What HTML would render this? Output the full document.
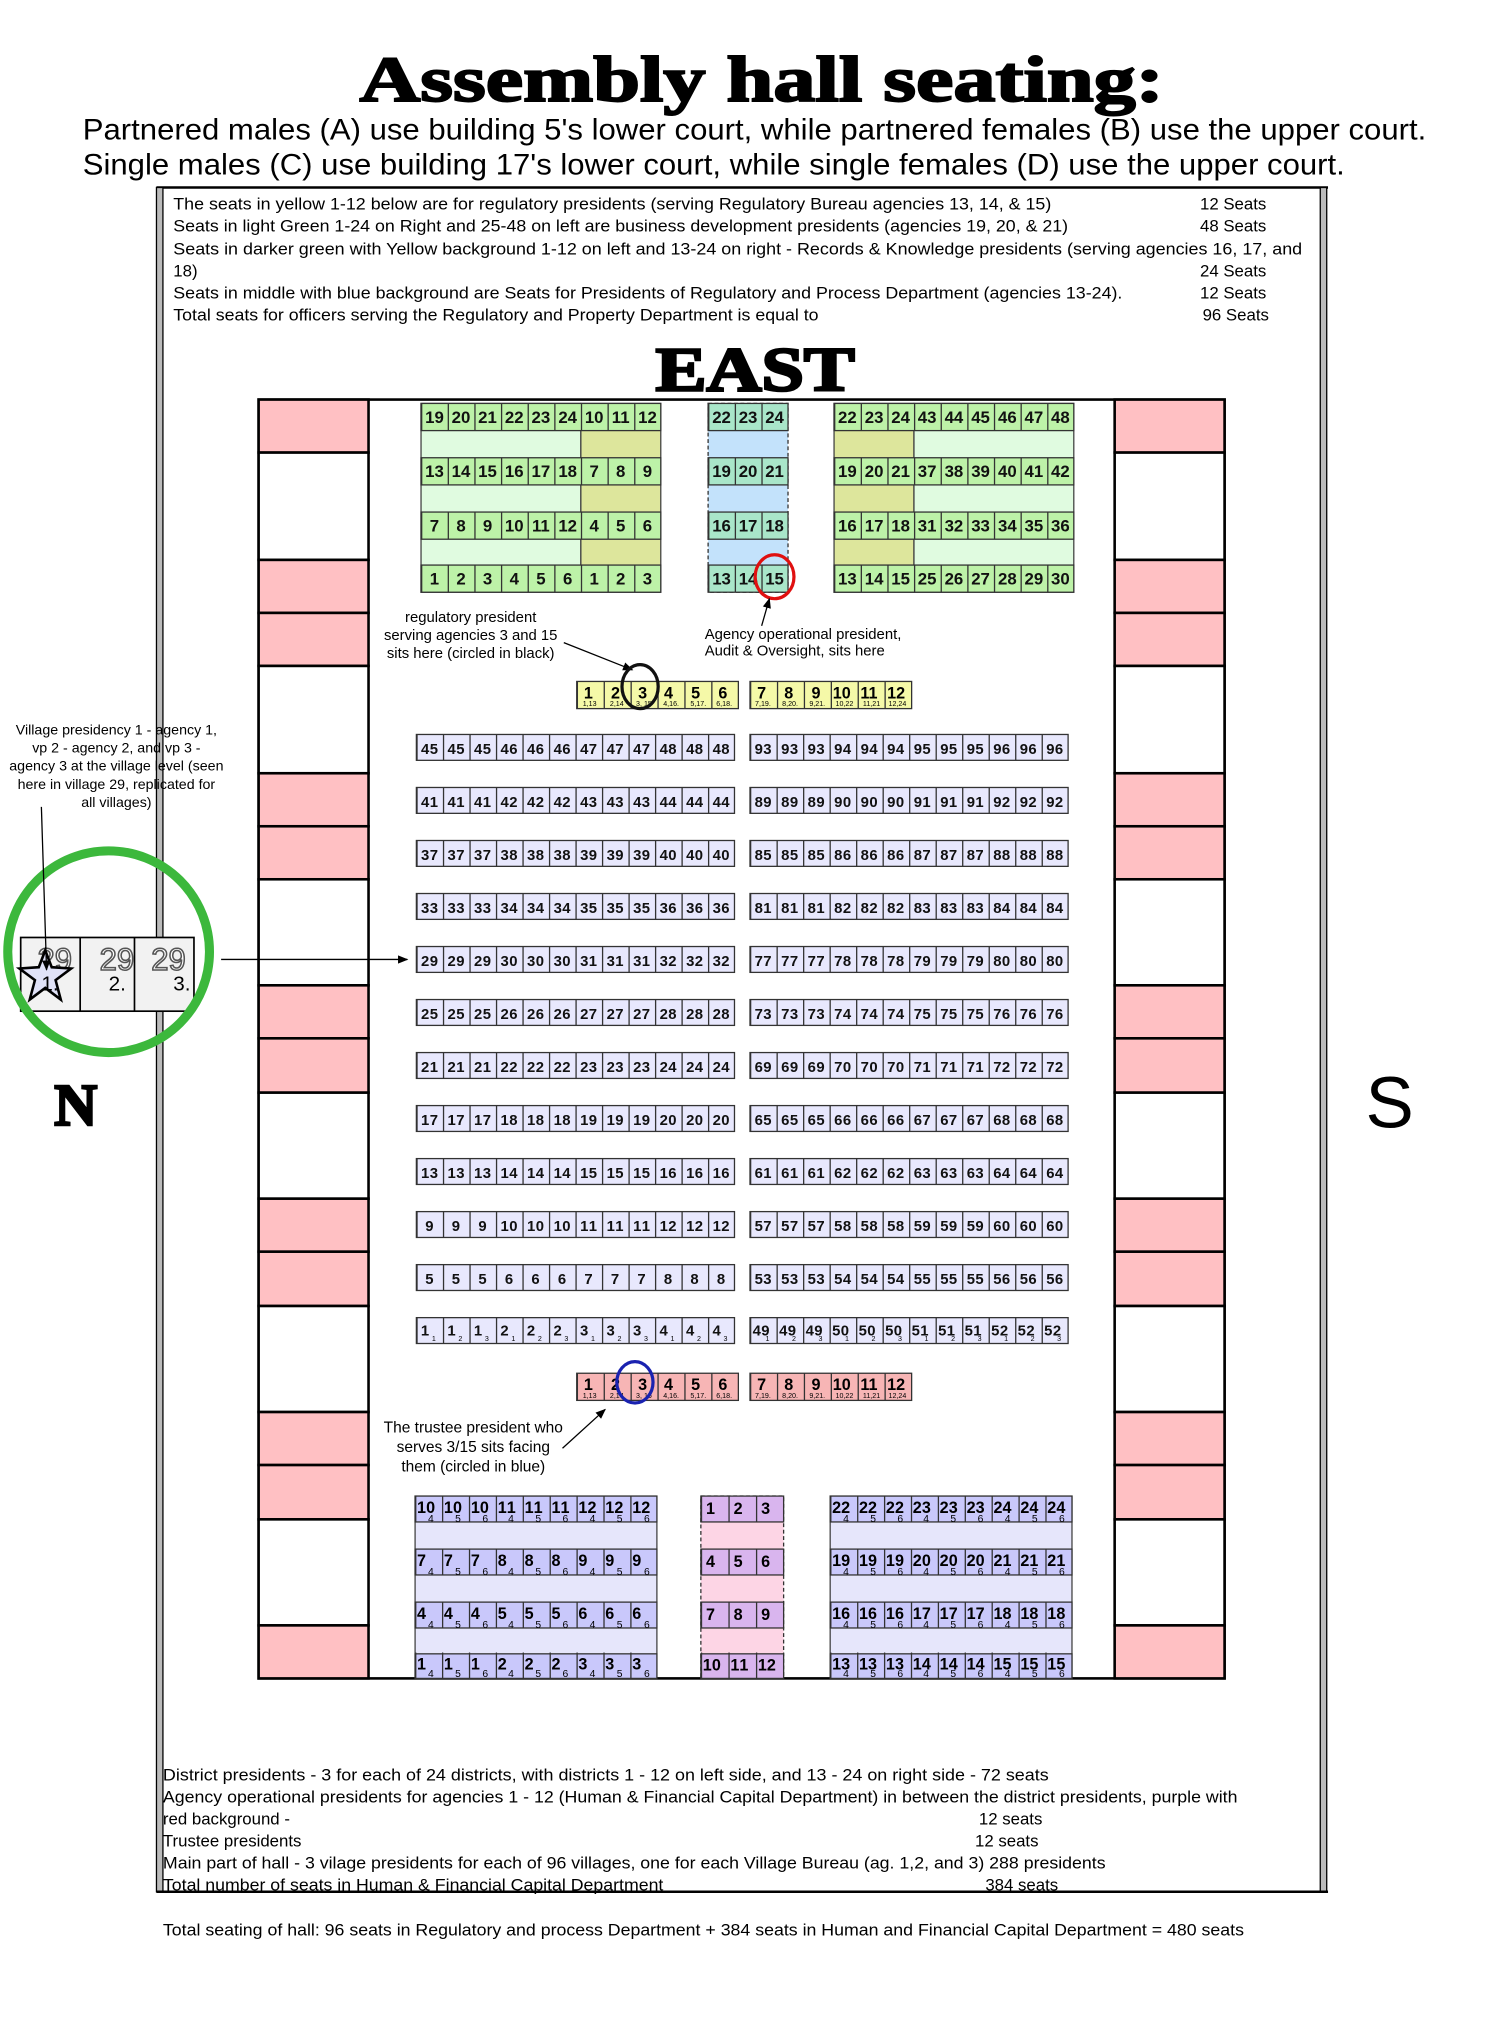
<!DOCTYPE html>
<html><head><meta charset="utf-8"><style>
html,body{margin:0;padding:0;background:#fff;}
svg{display:block;}
text{font-family:"Liberation Sans",sans-serif;}
</style></head><body>
<svg width="1500" height="2034" viewBox="0 0 1160 1573" preserveAspectRatio="none" xmlns="http://www.w3.org/2000/svg">
<defs>
<marker id="ah" viewBox="0 0 10 10" refX="9" refY="5" markerWidth="8" markerHeight="8" orient="auto"><path d="M0,1 L10,5 L0,9 z" fill="#000"/></marker>
</defs>
<rect width="1160" height="1573" fill="#fff"/>
<!-- Title -->
<text x="278" y="78" font-family="Liberation Serif,serif" font-weight="bold" font-size="50" textLength="622" lengthAdjust="spacingAndGlyphs" stroke="#000" stroke-width="1.5" style="font-family:'Liberation Serif',serif">Assembly hall seating:</text>
<text x="64" y="108" font-size="23" textLength="1039" lengthAdjust="spacingAndGlyphs">Partnered males (A) use building 5's lower court, while partnered females (B) use the upper court.</text>
<text x="64" y="135" font-size="23" textLength="976" lengthAdjust="spacingAndGlyphs">Single males (C) use building 17's lower court, while single females (D) use the upper court.</text>
<!-- Frame -->
<line x1="121" y1="145" x2="1027" y2="145" stroke="#000" stroke-width="2"/>
<line x1="121" y1="1463" x2="1027" y2="1463" stroke="#000" stroke-width="2"/>
<rect x="121" y="145" width="5" height="1318" fill="#bbb" stroke="#000" stroke-width="1"/>
<rect x="1021" y="145" width="5" height="1318" fill="#bbb" stroke="#000" stroke-width="1"/>
<!-- Info text -->
<g font-size="13">
<text x="134" y="162" textLength="679" lengthAdjust="spacingAndGlyphs">The seats  in yellow 1-12 below are for regulatory presidents (serving Regulatory Bureau agencies 13, 14, &amp; 15)</text>
<text x="928" y="162">12 Seats</text>
<text x="134" y="179" textLength="692" lengthAdjust="spacingAndGlyphs">Seats in light Green 1-24 on Right and 25-48 on left are business development presidents (agencies 19, 20, &amp; 21)</text>
<text x="928" y="179">48 Seats</text>
<text x="134" y="197" textLength="873" lengthAdjust="spacingAndGlyphs">Seats in darker  green with Yellow background 1-12 on left and 13-24 on right  - Records &amp; Knowledge presidents (serving agencies 16, 17, and</text>
<text x="134" y="214">18)</text>
<text x="928" y="214">24 Seats</text>
<text x="134" y="231" textLength="734" lengthAdjust="spacingAndGlyphs">Seats in middle with blue background are Seats for Presidents of  Regulatory and Process Department (agencies 13-24).</text>
<text x="928" y="231">12 Seats</text>
<text x="134" y="248" textLength="499" lengthAdjust="spacingAndGlyphs">Total seats for officers serving the Regulatory and Property Department is equal to</text>
<text x="930" y="248">96 Seats</text>
</g>
<text x="507" y="302" font-weight="bold" font-size="48" textLength="154" lengthAdjust="spacingAndGlyphs" stroke="#000" stroke-width="2" style="font-family:'Liberation Serif',serif">EAST</text>
<!-- Hall -->
<rect x="200" y="309" width="747" height="989" fill="none" stroke="#000" stroke-width="2"/>
<g stroke="#000" stroke-width="2">
<rect x="200" y="309" width="85" height="41" fill="#ffc0c3"/>
<rect x="200" y="350" width="85" height="83" fill="#fff"/>
<rect x="200" y="433" width="85" height="41" fill="#ffc0c3"/><rect x="200" y="474" width="85" height="41" fill="#ffc0c3"/><rect x="200" y="515" width="85" height="83" fill="#fff"/>
<rect x="200" y="598" width="85" height="41" fill="#ffc0c3"/><rect x="200" y="639" width="85" height="41" fill="#ffc0c3"/><rect x="200" y="680" width="85" height="82" fill="#fff"/>
<rect x="200" y="762" width="85" height="41" fill="#ffc0c3"/><rect x="200" y="803" width="85" height="42" fill="#ffc0c3"/><rect x="200" y="845" width="85" height="82" fill="#fff"/>
<rect x="200" y="927" width="85" height="41" fill="#ffc0c3"/><rect x="200" y="968" width="85" height="42" fill="#ffc0c3"/><rect x="200" y="1010" width="85" height="82" fill="#fff"/>
<rect x="200" y="1092" width="85" height="41" fill="#ffc0c3"/><rect x="200" y="1133" width="85" height="42" fill="#ffc0c3"/><rect x="200" y="1175" width="85" height="82" fill="#fff"/>
<rect x="200" y="1257" width="85" height="41" fill="#ffc0c3"/>
<rect x="862" y="309" width="85" height="41" fill="#ffc0c3"/>
<rect x="862" y="350" width="85" height="83" fill="#fff"/>
<rect x="862" y="433" width="85" height="41" fill="#ffc0c3"/><rect x="862" y="474" width="85" height="41" fill="#ffc0c3"/><rect x="862" y="515" width="85" height="83" fill="#fff"/>
<rect x="862" y="598" width="85" height="41" fill="#ffc0c3"/><rect x="862" y="639" width="85" height="41" fill="#ffc0c3"/><rect x="862" y="680" width="85" height="82" fill="#fff"/>
<rect x="862" y="762" width="85" height="41" fill="#ffc0c3"/><rect x="862" y="803" width="85" height="42" fill="#ffc0c3"/><rect x="862" y="845" width="85" height="82" fill="#fff"/>
<rect x="862" y="927" width="85" height="41" fill="#ffc0c3"/><rect x="862" y="968" width="85" height="42" fill="#ffc0c3"/><rect x="862" y="1010" width="85" height="82" fill="#fff"/>
<rect x="862" y="1092" width="85" height="41" fill="#ffc0c3"/><rect x="862" y="1133" width="85" height="42" fill="#ffc0c3"/><rect x="862" y="1175" width="85" height="82" fill="#fff"/>
<rect x="862" y="1257" width="85" height="41" fill="#ffc0c3"/>
</g>
<!-- Green blocks backgrounds -->
<rect x="325.6" y="312" width="123.6" height="146" fill="#e0fbe0" stroke="#444" stroke-width="1"/>
<rect x="449.2" y="312" width="61.8" height="146" fill="#dde69c" stroke="#444" stroke-width="1"/>
<rect x="547.6" y="312" width="61.8" height="146" fill="#c3e2fb" stroke="#333" stroke-width="1" stroke-dasharray="3 2"/>
<rect x="645" y="312" width="61.8" height="146" fill="#dde69c" stroke="#444" stroke-width="1"/>
<rect x="706.8" y="312" width="123.6" height="146" fill="#e0fbe0" stroke="#444" stroke-width="1"/>
<g stroke="#333" stroke-width="1">
<rect x="325.6" y="312" width="185.4" height="21" fill="#bdf2a8"/><rect x="325.6" y="354" width="185.4" height="21" fill="#bdf2a8"/><rect x="325.6" y="396" width="185.4" height="21" fill="#bdf2a8"/><rect x="325.6" y="437" width="185.4" height="21" fill="#bdf2a8"/>
<rect x="547.6" y="312" width="61.8" height="21" fill="#a9e6c9"/><rect x="547.6" y="354" width="61.8" height="21" fill="#a9e6c9"/><rect x="547.6" y="396" width="61.8" height="21" fill="#a9e6c9"/><rect x="547.6" y="437" width="61.8" height="21" fill="#a9e6c9"/>
<rect x="645" y="312" width="185.4" height="21" fill="#bdf2a8"/><rect x="645" y="354" width="185.4" height="21" fill="#bdf2a8"/><rect x="645" y="396" width="185.4" height="21" fill="#bdf2a8"/><rect x="645" y="437" width="185.4" height="21" fill="#bdf2a8"/>
</g>
<g stroke="#333" stroke-width="21" stroke-dasharray="1 19.6">
<line x1="325.6" y1="322.5" x2="511" y2="322.5"/><line x1="325.6" y1="364.5" x2="511" y2="364.5"/><line x1="325.6" y1="406.5" x2="511" y2="406.5"/><line x1="325.6" y1="447.5" x2="511" y2="447.5"/>
<line x1="547.6" y1="322.5" x2="609" y2="322.5"/><line x1="547.6" y1="364.5" x2="609" y2="364.5"/><line x1="547.6" y1="406.5" x2="609" y2="406.5"/><line x1="547.6" y1="447.5" x2="609" y2="447.5"/>
<line x1="645" y1="322.5" x2="830" y2="322.5"/><line x1="645" y1="364.5" x2="830" y2="364.5"/><line x1="645" y1="406.5" x2="830" y2="406.5"/><line x1="645" y1="447.5" x2="830" y2="447.5"/>
</g>
<g font-size="13" font-weight="bold" text-anchor="middle" fill="#111">
<text y="327"><tspan x="336">19</tspan><tspan x="356.5">20</tspan><tspan x="377">21</tspan><tspan x="397.7">22</tspan><tspan x="418.3">23</tspan><tspan x="439">24</tspan><tspan x="459.5">10</tspan><tspan x="480">11</tspan><tspan x="500.7">12</tspan></text>
<text y="369"><tspan x="336">13</tspan><tspan x="356.5">14</tspan><tspan x="377">15</tspan><tspan x="397.7">16</tspan><tspan x="418.3">17</tspan><tspan x="439">18</tspan><tspan x="459.5">7</tspan><tspan x="480">8</tspan><tspan x="500.7">9</tspan></text>
<text y="411"><tspan x="336">7</tspan><tspan x="356.5">8</tspan><tspan x="377">9</tspan><tspan x="397.7">10</tspan><tspan x="418.3">11</tspan><tspan x="439">12</tspan><tspan x="459.5">4</tspan><tspan x="480">5</tspan><tspan x="500.7">6</tspan></text>
<text y="452"><tspan x="336">1</tspan><tspan x="356.5">2</tspan><tspan x="377">3</tspan><tspan x="397.7">4</tspan><tspan x="418.3">5</tspan><tspan x="439">6</tspan><tspan x="459.5">1</tspan><tspan x="480">2</tspan><tspan x="500.7">3</tspan></text>
<text y="327"><tspan x="558">22</tspan><tspan x="578.5">23</tspan><tspan x="599">24</tspan></text>
<text y="369"><tspan x="558">19</tspan><tspan x="578.5">20</tspan><tspan x="599">21</tspan></text>
<text y="411"><tspan x="558">16</tspan><tspan x="578.5">17</tspan><tspan x="599">18</tspan></text>
<text y="452"><tspan x="558">13</tspan><tspan x="578.5">14</tspan><tspan x="599">15</tspan></text>
<text y="327"><tspan x="655.3">22</tspan><tspan x="676">23</tspan><tspan x="696.5">24</tspan><tspan x="717">43</tspan><tspan x="737.7">44</tspan><tspan x="758.3">45</tspan><tspan x="779">46</tspan><tspan x="799.5">47</tspan><tspan x="820">48</tspan></text>
<text y="369"><tspan x="655.3">19</tspan><tspan x="676">20</tspan><tspan x="696.5">21</tspan><tspan x="717">37</tspan><tspan x="737.7">38</tspan><tspan x="758.3">39</tspan><tspan x="779">40</tspan><tspan x="799.5">41</tspan><tspan x="820">42</tspan></text>
<text y="411"><tspan x="655.3">16</tspan><tspan x="676">17</tspan><tspan x="696.5">18</tspan><tspan x="717">31</tspan><tspan x="737.7">32</tspan><tspan x="758.3">33</tspan><tspan x="779">34</tspan><tspan x="799.5">35</tspan><tspan x="820">36</tspan></text>
<text y="452"><tspan x="655.3">13</tspan><tspan x="676">14</tspan><tspan x="696.5">15</tspan><tspan x="717">25</tspan><tspan x="737.7">26</tspan><tspan x="758.3">27</tspan><tspan x="779">28</tspan><tspan x="799.5">29</tspan><tspan x="820">30</tspan></text>
</g>
<ellipse cx="599" cy="446" rx="15" ry="17" fill="none" stroke="#e01010" stroke-width="2.5"/>
<!-- annotations top -->
<g font-size="11.5" text-anchor="middle">
<text x="364" y="481">regulatory president</text>
<text x="364" y="495">serving agencies 3 and 15</text>
<text x="364" y="509">sits here (circled in black)</text>
</g>
<line x1="436" y1="497" x2="489" y2="518" stroke="#000" stroke-width="1" marker-end="url(#ah)"/>
<g font-size="11.5">
<text x="545" y="494">Agency operational president,</text>
<text x="545" y="507">Audit &amp; Oversight, sits here</text>
</g>
<line x1="589" y1="484" x2="595" y2="463" stroke="#000" stroke-width="1" marker-end="url(#ah)"/>
<!-- yellow row -->
<rect x="446" y="527" width="125" height="21" fill="#f5f9a8" stroke="#333"/>
<rect x="580" y="527" width="125" height="21" fill="#f5f9a8" stroke="#333"/>
<g stroke="#333" stroke-width="21" stroke-dasharray="1 19.8"><line x1="446" y1="537.5" x2="571" y2="537.5"/><line x1="580" y1="537.5" x2="705" y2="537.5"/></g>
<g font-size="12.5" font-weight="bold" text-anchor="middle">
<text y="540"><tspan x="455">1</tspan><tspan x="476">2</tspan><tspan x="497">3</tspan><tspan x="517">4</tspan><tspan x="538">5</tspan><tspan x="559">6</tspan><tspan x="589">7</tspan><tspan x="610">8</tspan><tspan x="631">9</tspan><tspan x="651">10</tspan><tspan x="672">11</tspan><tspan x="693">12</tspan></text>
</g>
<g font-size="5.5" text-anchor="middle">
<text y="546"><tspan x="456">1,13</tspan><tspan x="477">2,14</tspan><tspan x="498">3, 15</tspan><tspan x="519">4,16.</tspan><tspan x="540">5,17.</tspan><tspan x="560">6,18.</tspan><tspan x="590">7,19.</tspan><tspan x="611">8,20.</tspan><tspan x="632">9,21.</tspan><tspan x="653">10,22</tspan><tspan x="674">11,21</tspan><tspan x="694">12,24</tspan></text>
</g>
<ellipse cx="495" cy="531" rx="14" ry="17" fill="none" stroke="#111" stroke-width="2.5"/>
<!-- Village rows -->
<g fill="#e8e8fd" stroke="#333" stroke-width="1">
<rect x="322" y="568" width="246" height="20"/><rect x="580" y="568" width="246" height="20"/>
<rect x="322" y="609" width="246" height="20"/><rect x="580" y="609" width="246" height="20"/>
<rect x="322" y="650" width="246" height="20"/><rect x="580" y="650" width="246" height="20"/>
<rect x="322" y="691" width="246" height="20"/><rect x="580" y="691" width="246" height="20"/>
<rect x="322" y="732" width="246" height="20"/><rect x="580" y="732" width="246" height="20"/>
<rect x="322" y="773" width="246" height="20"/><rect x="580" y="773" width="246" height="20"/>
<rect x="322" y="814" width="246" height="20"/><rect x="580" y="814" width="246" height="20"/>
<rect x="322" y="855" width="246" height="20"/><rect x="580" y="855" width="246" height="20"/>
<rect x="322" y="896" width="246" height="20"/><rect x="580" y="896" width="246" height="20"/>
<rect x="322" y="937" width="246" height="20"/><rect x="580" y="937" width="246" height="20"/>
<rect x="322" y="978" width="246" height="20"/><rect x="580" y="978" width="246" height="20"/>
<rect x="322" y="1019" width="246" height="20"/><rect x="580" y="1019" width="246" height="20"/>
</g>
<g stroke="#333" stroke-width="20" stroke-dasharray="1 19.5">
<line x1="322" y1="578" x2="568" y2="578"/><line x1="580" y1="578" x2="826" y2="578"/>
<line x1="322" y1="619" x2="568" y2="619"/><line x1="580" y1="619" x2="826" y2="619"/>
<line x1="322" y1="660" x2="568" y2="660"/><line x1="580" y1="660" x2="826" y2="660"/>
<line x1="322" y1="701" x2="568" y2="701"/><line x1="580" y1="701" x2="826" y2="701"/>
<line x1="322" y1="742" x2="568" y2="742"/><line x1="580" y1="742" x2="826" y2="742"/>
<line x1="322" y1="783" x2="568" y2="783"/><line x1="580" y1="783" x2="826" y2="783"/>
<line x1="322" y1="824" x2="568" y2="824"/><line x1="580" y1="824" x2="826" y2="824"/>
<line x1="322" y1="865" x2="568" y2="865"/><line x1="580" y1="865" x2="826" y2="865"/>
<line x1="322" y1="906" x2="568" y2="906"/><line x1="580" y1="906" x2="826" y2="906"/>
<line x1="322" y1="947" x2="568" y2="947"/><line x1="580" y1="947" x2="826" y2="947"/>
<line x1="322" y1="988" x2="568" y2="988"/><line x1="580" y1="988" x2="826" y2="988"/>
<line x1="322" y1="1029" x2="568" y2="1029"/><line x1="580" y1="1029" x2="826" y2="1029"/>
</g>
<g font-size="11.5" font-weight="bold" fill="#111">
<text y="583" x="325.6 332.3 346.1 352.8 366.6 373.3 387.1 393.8 407.6 414.3 428.1 434.8 448.6 455.3 469.1 475.8 489.6 496.3 510.1 516.8 530.6 537.3 551.1 557.8">454545464646474747484848</text>
<text y="624" x="325.6 332.3 346.1 352.8 366.6 373.3 387.1 393.8 407.6 414.3 428.1 434.8 448.6 455.3 469.1 475.8 489.6 496.3 510.1 516.8 530.6 537.3 551.1 557.8">414141424242434343444444</text>
<text y="665" x="325.6 332.3 346.1 352.8 366.6 373.3 387.1 393.8 407.6 414.3 428.1 434.8 448.6 455.3 469.1 475.8 489.6 496.3 510.1 516.8 530.6 537.3 551.1 557.8">373737383838393939404040</text>
<text y="706" x="325.6 332.3 346.1 352.8 366.6 373.3 387.1 393.8 407.6 414.3 428.1 434.8 448.6 455.3 469.1 475.8 489.6 496.3 510.1 516.8 530.6 537.3 551.1 557.8">333333343434353535363636</text>
<text y="747" x="325.6 332.3 346.1 352.8 366.6 373.3 387.1 393.8 407.6 414.3 428.1 434.8 448.6 455.3 469.1 475.8 489.6 496.3 510.1 516.8 530.6 537.3 551.1 557.8">292929303030313131323232</text>
<text y="788" x="325.6 332.3 346.1 352.8 366.6 373.3 387.1 393.8 407.6 414.3 428.1 434.8 448.6 455.3 469.1 475.8 489.6 496.3 510.1 516.8 530.6 537.3 551.1 557.8">252525262626272727282828</text>
<text y="829" x="325.6 332.3 346.1 352.8 366.6 373.3 387.1 393.8 407.6 414.3 428.1 434.8 448.6 455.3 469.1 475.8 489.6 496.3 510.1 516.8 530.6 537.3 551.1 557.8">212121222222232323242424</text>
<text y="870" x="325.6 332.3 346.1 352.8 366.6 373.3 387.1 393.8 407.6 414.3 428.1 434.8 448.6 455.3 469.1 475.8 489.6 496.3 510.1 516.8 530.6 537.3 551.1 557.8">171717181818191919202020</text>
<text y="911" x="325.6 332.3 346.1 352.8 366.6 373.3 387.1 393.8 407.6 414.3 428.1 434.8 448.6 455.3 469.1 475.8 489.6 496.3 510.1 516.8 530.6 537.3 551.1 557.8">131313141414151515161616</text>
<text y="952" x="328.9 349.4 369.9 387.1 393.8 407.6 414.3 428.1 434.8 448.6 455.3 469.1 475.8 489.6 496.3 510.1 516.8 530.6 537.3 551.1 557.8">999101010111111121212</text>
<text y="993" x="328.9 349.4 369.9 390.4 410.9 431.4 451.9 472.4 492.9 513.4 533.9 554.4">555666777888</text>
<text y="1033" x="325.5 346 366.5 387 407.5 428 448.5 469 489.5 510 530.5 551">111222333444</text>
<text y="583" x="583.6 590.3 604.1 610.8 624.6 631.3 645.1 651.8 665.6 672.3 686.1 692.8 706.6 713.3 727.1 733.8 747.6 754.3 768.1 774.8 788.6 795.3 809.1 815.8">939393949494959595969696</text>
<text y="624" x="583.6 590.3 604.1 610.8 624.6 631.3 645.1 651.8 665.6 672.3 686.1 692.8 706.6 713.3 727.1 733.8 747.6 754.3 768.1 774.8 788.6 795.3 809.1 815.8">898989909090919191929292</text>
<text y="665" x="583.6 590.3 604.1 610.8 624.6 631.3 645.1 651.8 665.6 672.3 686.1 692.8 706.6 713.3 727.1 733.8 747.6 754.3 768.1 774.8 788.6 795.3 809.1 815.8">858585868686878787888888</text>
<text y="706" x="583.6 590.3 604.1 610.8 624.6 631.3 645.1 651.8 665.6 672.3 686.1 692.8 706.6 713.3 727.1 733.8 747.6 754.3 768.1 774.8 788.6 795.3 809.1 815.8">818181828282838383848484</text>
<text y="747" x="583.6 590.3 604.1 610.8 624.6 631.3 645.1 651.8 665.6 672.3 686.1 692.8 706.6 713.3 727.1 733.8 747.6 754.3 768.1 774.8 788.6 795.3 809.1 815.8">777777787878797979808080</text>
<text y="788" x="583.6 590.3 604.1 610.8 624.6 631.3 645.1 651.8 665.6 672.3 686.1 692.8 706.6 713.3 727.1 733.8 747.6 754.3 768.1 774.8 788.6 795.3 809.1 815.8">737373747474757575767676</text>
<text y="829" x="583.6 590.3 604.1 610.8 624.6 631.3 645.1 651.8 665.6 672.3 686.1 692.8 706.6 713.3 727.1 733.8 747.6 754.3 768.1 774.8 788.6 795.3 809.1 815.8">696969707070717171727272</text>
<text y="870" x="583.6 590.3 604.1 610.8 624.6 631.3 645.1 651.8 665.6 672.3 686.1 692.8 706.6 713.3 727.1 733.8 747.6 754.3 768.1 774.8 788.6 795.3 809.1 815.8">656565666666676767686868</text>
<text y="911" x="583.6 590.3 604.1 610.8 624.6 631.3 645.1 651.8 665.6 672.3 686.1 692.8 706.6 713.3 727.1 733.8 747.6 754.3 768.1 774.8 788.6 795.3 809.1 815.8">616161626262636363646464</text>
<text y="952" x="583.6 590.3 604.1 610.8 624.6 631.3 645.1 651.8 665.6 672.3 686.1 692.8 706.6 713.3 727.1 733.8 747.6 754.3 768.1 774.8 788.6 795.3 809.1 815.8">575757585858595959606060</text>
<text y="993" x="583.6 590.3 604.1 610.8 624.6 631.3 645.1 651.8 665.6 672.3 686.1 692.8 706.6 713.3 727.1 733.8 747.6 754.3 768.1 774.8 788.6 795.3 809.1 815.8">535353545454555555565656</text>
<text y="1033" x="582 588.7 602.5 609.2 623 629.7 643.5 650.2 664 670.7 684.5 691.2 705 711.7 725.5 732.2 746 752.7 766.5 773.2 787 793.7 807.5 814.2">494949505050515151525252</text>
</g>
<g font-size="5.5">
<text y="1037" x="334 354.5 375 395.5 416 436.5 457 477.5 498 518.5 539 559.5">123123123123</text>
<text y="1037" x="592 612.5 633 653.5 674 694.5 715 735.5 756 776.5 797 817.5">123123123123</text>
</g>
<!-- pink row -->
<rect x="446" y="1062" width="125" height="21" fill="#f7b5b5" stroke="#333"/>
<rect x="580" y="1062" width="125" height="21" fill="#f7b5b5" stroke="#333"/>
<g stroke="#333" stroke-width="21" stroke-dasharray="1 19.8"><line x1="446" y1="1072.5" x2="571" y2="1072.5"/><line x1="580" y1="1072.5" x2="705" y2="1072.5"/></g>
<g font-size="12.5" font-weight="bold" text-anchor="middle">
<text y="1075"><tspan x="455">1</tspan><tspan x="476">2</tspan><tspan x="497">3</tspan><tspan x="517">4</tspan><tspan x="538">5</tspan><tspan x="559">6</tspan><tspan x="589">7</tspan><tspan x="610">8</tspan><tspan x="631">9</tspan><tspan x="651">10</tspan><tspan x="672">11</tspan><tspan x="693">12</tspan></text>
</g>
<g font-size="5.5" text-anchor="middle">
<text y="1081"><tspan x="456">1,13</tspan><tspan x="477">2,14</tspan><tspan x="498">3, 15</tspan><tspan x="519">4,16.</tspan><tspan x="540">5,17.</tspan><tspan x="560">6,18.</tspan><tspan x="590">7,19.</tspan><tspan x="611">8,20.</tspan><tspan x="632">9,21.</tspan><tspan x="653">10,22</tspan><tspan x="674">11,21</tspan><tspan x="694">12,24</tspan></text>
</g>
<ellipse cx="491" cy="1069" rx="14" ry="16" fill="none" stroke="#1a22b0" stroke-width="2.5"/>
<g font-size="12" text-anchor="middle">
<text x="366" y="1108">The trustee president who</text>
<text x="366" y="1123">serves 3/15 sits facing</text>
<text x="366" y="1138">them (circled in blue)</text>
</g>
<line x1="435" y1="1120" x2="468" y2="1090" stroke="#000" stroke-width="1" marker-end="url(#ah)"/>
<!-- Bottom blocks -->
<rect x="321" y="1157" width="187" height="141" fill="#e6e6fb" stroke="#444"/>
<rect x="642" y="1157" width="187" height="141" fill="#e6e6fb" stroke="#444"/>
<rect x="542" y="1157" width="64" height="141" fill="#fdd5e5" stroke="#333" stroke-dasharray="3 2"/>
<g stroke="#333" stroke-width="1">
<rect x="321" y="1157" width="187" height="20" fill="#c9c8fb"/><rect x="321" y="1198" width="187" height="20" fill="#c9c8fb"/><rect x="321" y="1239" width="187" height="20" fill="#c9c8fb"/><rect x="321" y="1279" width="187" height="19" fill="#c9c8fb"/>
<rect x="642" y="1157" width="187" height="20" fill="#c9c8fb"/><rect x="642" y="1198" width="187" height="20" fill="#c9c8fb"/><rect x="642" y="1239" width="187" height="20" fill="#c9c8fb"/><rect x="642" y="1279" width="187" height="19" fill="#c9c8fb"/>
<rect x="542" y="1157" width="64" height="20" fill="#d9b5ee"/><rect x="542" y="1198" width="64" height="20" fill="#d9b5ee"/><rect x="542" y="1239" width="64" height="20" fill="#d9b5ee"/><rect x="542" y="1279" width="64" height="19" fill="#d9b5ee"/>
</g>
<g stroke="#333" stroke-width="20" stroke-dasharray="1 19.8">
<line x1="321" y1="1167" x2="508" y2="1167"/><line x1="321" y1="1208" x2="508" y2="1208"/><line x1="321" y1="1249" x2="508" y2="1249"/><line x1="321" y1="1288" x2="508" y2="1288"/>
<line x1="642" y1="1167" x2="829" y2="1167"/><line x1="642" y1="1208" x2="829" y2="1208"/><line x1="642" y1="1249" x2="829" y2="1249"/><line x1="642" y1="1288" x2="829" y2="1288"/>
</g>
<g stroke="#333" stroke-width="20" stroke-dasharray="1 20.3">
<line x1="542" y1="1167" x2="606" y2="1167"/><line x1="542" y1="1208" x2="606" y2="1208"/><line x1="542" y1="1249" x2="606" y2="1249"/><line x1="542" y1="1288" x2="606" y2="1288"/>
</g>
<g font-size="12.5" font-weight="bold">
<text y="1170" x="322.5 329.5 343.3 350.3 364.1 371.1 384.9 391.9 405.7 412.7 426.5 433.5 447.3 454.3 468.1 475.1 488.9 495.9">101010111111121212</text>
<text y="1211" x="322.5 343.3 364.1 384.9 405.7 426.5 447.3 468.1 488.9">777888999</text>
<text y="1252" x="322.5 343.3 364.1 384.9 405.7 426.5 447.3 468.1 488.9">444555666</text>
<text y="1291" x="322.5 343.3 364.1 384.9 405.7 426.5 447.3 468.1 488.9">111222333</text>
<text y="1170" x="643.5 650.5 664.3 671.3 685.1 692.1 705.9 712.9 726.7 733.7 747.5 754.5 768.3 775.3 789.1 796.1 809.9 816.9">222222232323242424</text>
<text y="1211" x="643.5 650.5 664.3 671.3 685.1 692.1 705.9 712.9 726.7 733.7 747.5 754.5 768.3 775.3 789.1 796.1 809.9 816.9">191919202020212121</text>
<text y="1252" x="643.5 650.5 664.3 671.3 685.1 692.1 705.9 712.9 726.7 733.7 747.5 754.5 768.3 775.3 789.1 796.1 809.9 816.9">161616171717181818</text>
<text y="1291" x="643.5 650.5 664.3 671.3 685.1 692.1 705.9 712.9 726.7 733.7 747.5 754.5 768.3 775.3 789.1 796.1 809.9 816.9">131313141414151515</text>
<text y="1171" x="546 567.3 588.6">123</text>
<text y="1212" x="546 567.3 588.6">456</text>
<text y="1253" x="546 567.3 588.6">789</text>
<text y="1292" x="543.5 550.5 564.8 571.8 586.1 593.1">101112</text>
</g>
<g font-size="8">
<text y="1177" x="331 352 373 393 414 435 456 477 498">456456456</text>
<text y="1218" x="331 352 373 393 414 435 456 477 498">456456456</text>
<text y="1259" x="331 352 373 393 414 435 456 477 498">456456456</text>
<text y="1297" x="331 352 373 393 414 435 456 477 498">456456456</text>
<text y="1177" x="652 673 694 714 735 756 777 798 819">456456456</text>
<text y="1218" x="652 673 694 714 735 756 777 798 819">456456456</text>
<text y="1259" x="652 673 694 714 735 756 777 798 819">456456456</text>
<text y="1297" x="652 673 694 714 735 756 777 798 819">456456456</text>
</g>
<!-- Village annotation -->
<g font-size="11" text-anchor="middle">
<text x="90" y="568">Village presidency  1 - agency 1,</text>
<text x="90" y="582">vp 2 - agency 2, and vp 3 -</text>
<text x="90" y="596">agency 3 at the village level (seen</text>
<text x="90" y="610">here in village 29, replicated  for</text>
<text x="90" y="624">all villages)</text>
</g>
<rect x="16" y="725" width="134" height="57" fill="#f2f2f2" stroke="#000" stroke-width="1.3"/>
<line x1="62" y1="725" x2="62" y2="782" stroke="#000" stroke-width="1.3"/>
<line x1="104" y1="725" x2="104" y2="782" stroke="#000" stroke-width="1.3"/>
<g font-size="24" fill="#fff" stroke="#555" stroke-width="1.2">
<text x="29" y="750">29</text><text x="77" y="750">29</text><text x="117" y="750">29</text>
</g>
<polygon points="35,735 40,748 55,749 43,758 47,773 35,764 23,773 27,758 15,749 30,748" fill="#e0e2f7" stroke="#000" stroke-width="2"/>
<g font-size="16"><text x="32" y="766">1.</text><text x="84" y="766">2.</text><text x="134" y="766">3.</text></g>
<circle cx="84" cy="736" r="78" fill="none" stroke="#3cb83c" stroke-width="7"/>
<line x1="32" y1="624" x2="36" y2="750" stroke="#000" stroke-width="1" marker-end="url(#ah)"/>
<line x1="171" y1="742" x2="315" y2="742" stroke="#000" stroke-width="1" marker-end="url(#ah)"/>
<text x="42" y="870" font-size="46" font-weight="bold" stroke="#000" stroke-width="2" style="font-family:'Liberation Serif',serif">N</text>
<text x="1056" y="872" font-size="56">S</text>
<!-- bottom text -->
<g font-size="13">
<text x="126" y="1377" textLength="685" lengthAdjust="spacingAndGlyphs">District presidents - 3 for each of 24 districts, with districts 1 - 12 on left side, and 13 - 24 on right side -   72 seats</text>
<text x="126" y="1394" textLength="831" lengthAdjust="spacingAndGlyphs">Agency operational presidents for agencies 1 - 12 (Human &amp; Financial Capital Department) in between the district presidents, purple with</text>
<text x="126" y="1411">red background -</text><text x="757" y="1411">12 seats</text>
<text x="126" y="1428">Trustee presidents</text><text x="754" y="1428">12 seats</text>
<text x="126" y="1445" textLength="729" lengthAdjust="spacingAndGlyphs">Main part of hall - 3 vilage presidents for each of 96 villages, one for each Village Bureau (ag. 1,2, and 3) 288 presidents</text>
<text x="126" y="1462" textLength="387" lengthAdjust="spacingAndGlyphs">Total number of seats in Human &amp; Financial Capital Department</text><text x="762" y="1462">384 seats</text>
<text x="126" y="1497" textLength="836" lengthAdjust="spacingAndGlyphs">Total seating of hall: 96 seats in Regulatory and process Department + 384 seats in Human and Financial Capital Department = 480 seats</text>
</g>
<line x1="121" y1="1463" x2="1027" y2="1463" stroke="#000" stroke-width="2"/>
</svg>
</body></html>
